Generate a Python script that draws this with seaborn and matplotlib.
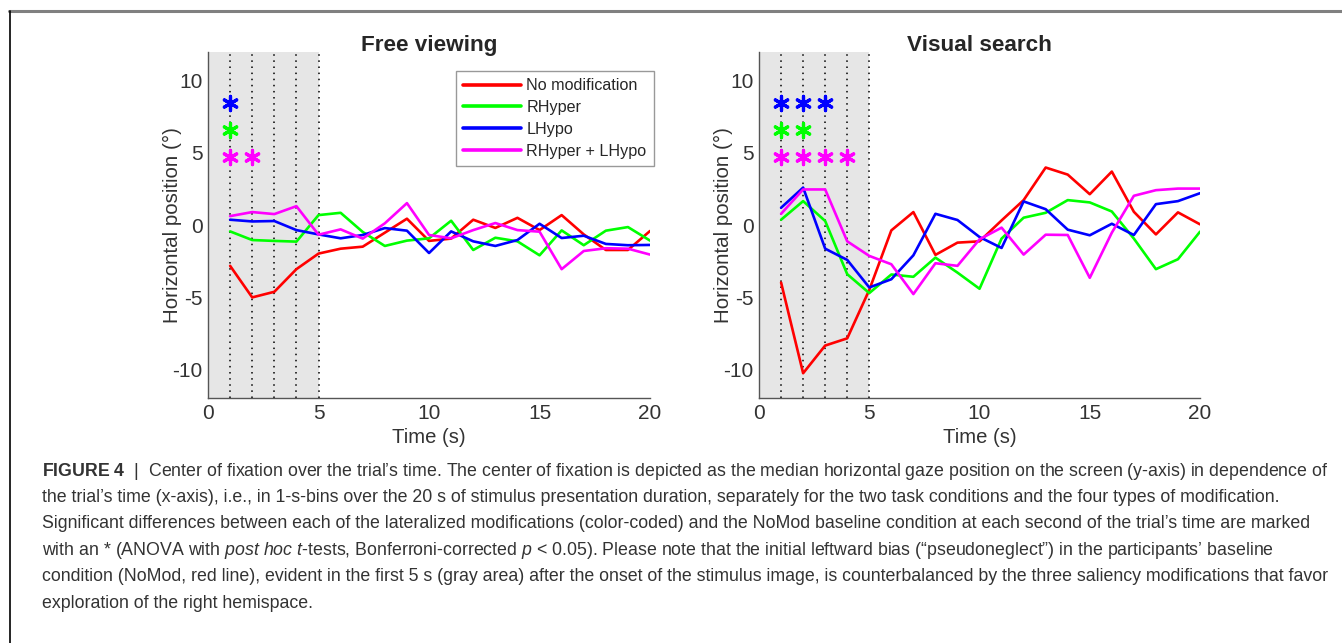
import numpy as np
import pandas as pd
import matplotlib
matplotlib.use("Agg")
import matplotlib.pyplot as plt
import seaborn as sns

# time bins (s)
time = list(range(1, 21))

conditions = ["No modification", "RHyper", "LHypo", "RHyper + LHypo"]
colors = ["#ff0000", "#00ff00", "#0000ff", "#ff00ff"]

# free viewing: median horizontal gaze position (deg)
free_nomod = [-2.83, -5.02, -4.63, -3.06, -1.98, -1.64, -1.50, -0.53, 0.44, -1.10,
              -0.94, 0.37, -0.20, 0.50, -0.35, 0.69, -0.65, -1.73, -1.73, -0.41]
free_rhyper = [-0.44, -1.04, -1.10, -1.15, 0.69, 0.85, -0.48, -1.45, -1.08, -0.92,
               0.30, -1.73, -0.88, -1.13, -2.10, -0.37, -1.40, -0.39, -0.14, -1.08]
free_lhypo = [0.37, 0.25, 0.28, -0.35, -0.65, -0.92, -0.69, -0.21, -0.39, -1.94,
              -0.44, -1.13, -1.45, -1.04, 0.09, -0.90, -0.74, -1.31, -1.40, -1.38]
free_both = [0.62, 0.90, 0.76, 1.31, -0.67, -0.30, -0.94, 0.12, 1.52, -0.69,
             -0.92, -0.35, 0.14, -0.35, -0.46, -3.06, -1.80, -1.61, -1.64, -2.05]

# visual search
search_nomod = [-3.99, -10.28, -8.36, -7.86, -4.50, -0.37, 0.90, -2.07, -1.22, -1.13,
                0.32, 1.73, 3.99, 3.50, 2.14, 3.71, 0.92, -0.65, 0.88, 0.05]
search_rhyper = [0.37, 1.66, 0.28, -3.41, -4.72, -3.43, -3.59, -2.26, -3.30, -4.42,
                 -0.94, 0.51, 0.85, 1.73, 1.57, 0.94, -0.94, -3.06, -2.37, -0.46]
search_lhypo = [1.20, 2.60, -1.64, -2.42, -4.33, -3.76, -2.10, 0.78, 0.35, -0.83,
                -1.59, 1.64, 1.10, -0.32, -0.71, 0.09, -0.69, 1.45, 1.66, 2.21]
search_both = [0.78, 2.47, 2.47, -1.13, -2.14, -2.72, -4.79, -2.65, -2.83, -0.99,
               -0.18, -2.05, -0.67, -0.69, -3.66, -0.53, 2.03, 2.42, 2.53, 2.53]

# significance stars: seconds with p < 0.05 per modification
free_stars = {"LHypo": [1], "RHyper": [1], "RHyper + LHypo": [1, 2]}
search_stars = {"LHypo": [1, 2, 3], "RHyper": [1, 2], "RHyper + LHypo": [1, 2, 3, 4]}
star_y = {"LHypo": 8.46, "RHyper": 6.57, "RHyper + LHypo": 4.72}


def long_df(series):
    rows = []
    for cond, vals in zip(conditions, series):
        for t, v in zip(time, vals):
            rows.append({"Time": t, "Pos": v, "Cond": cond})
    return pd.DataFrame(rows)


sns.set_style("white")
plt.rcParams["font.family"] = ["Liberation Sans", "DejaVu Sans"]
plt.rcParams["axes.unicode_minus"] = False
plt.rcParams["mathtext.fontset"] = "custom"
plt.rcParams["mathtext.rm"] = "Liberation Sans"
plt.rcParams["mathtext.it"] = "Liberation Sans:italic"
plt.rcParams["mathtext.bf"] = "Liberation Sans:bold"

fig = plt.figure(figsize=(13.42, 6.43), dpi=100)
pal = dict(zip(conditions, colors))

panels = [
    ("Free viewing", [free_nomod, free_rhyper, free_lhypo, free_both], free_stars,
     [0.155, 0.381, 0.3294, 0.538], True),
    ("Visual search", [search_nomod, search_rhyper, search_lhypo, search_both], search_stars,
     [0.5656, 0.381, 0.3286, 0.538], False),
]

for title, series, stars, rect, show_leg in panels:
    ax = fig.add_axes(rect)
    ax.axvspan(0, 5, color="#e6e6e6", lw=0, zorder=0)
    for x in range(1, 6):
        ax.axvline(x, color="black", lw=1.1, ls=(0, (1, 3)), zorder=1)
    df = long_df(series)
    sns.lineplot(data=df, x="Time", y="Pos", hue="Cond", palette=pal,
                 hue_order=conditions, lw=1.9, ax=ax, legend=show_leg, zorder=3)
    for cond, xs in stars.items():
        sns.scatterplot(x=xs, y=[star_y[cond]] * len(xs), marker=(6, 2, 0), s=105,
                        color=pal[cond], edgecolor=pal[cond], linewidth=2.3, ax=ax,
                        zorder=4)
    ax.set_xlim(0, 20)
    ax.set_ylim(-12, 12)
    ax.set_xticks([0, 5, 10, 15, 20])
    ax.set_yticks([-10, -5, 0, 5, 10])
    ax.tick_params(direction="in", length=4, width=0.8, color="#555555",
                   labelsize=15, labelcolor="#333333", pad=4)
    for s in ["top", "right"]:
        ax.spines[s].set_visible(False)
    for s in ["left", "bottom"]:
        ax.spines[s].set_color("#555555")
        ax.spines[s].set_linewidth(1.0)
    ax.set_xlabel("Time (s)", fontsize=14.6, color="#333333", labelpad=4)
    ax.set_ylabel("Horizontal position (°)", fontsize=14.8, color="#333333")
    ax.yaxis.set_label_coords(-0.058, 0.5)
    ax.set_title(title, fontsize=16.2, fontweight="bold", pad=1)
    if show_leg:
        leg = ax.legend(loc="upper right", bbox_to_anchor=(1.008, 0.945), fontsize=11.6,
                        handlelength=3.6, frameon=True, fancybox=False,
                        edgecolor="#808080", borderpad=0.45, labelspacing=0.42,
                        handletextpad=0.3, borderaxespad=0)
        leg.get_frame().set_linewidth(1.0)
        for h in leg.get_lines():
            h.set_linewidth(2.6)

# figure frame: gray top rule, black left rule
fig.add_artist(plt.Line2D([9 / 1342, 1], [1 - 11 / 643] * 2, color="#808080", lw=2.2))
fig.add_artist(plt.Line2D([9.5 / 1342] * 2, [0, 1 - 11 / 643], color="black", lw=1.2))

caption = [
    r"$\bf{FIGURE\ 4}$  |  Center of fixation over the trial’s time. The center of fixation is depicted as the median horizontal gaze position on the screen (y-axis) in dependence of",
    "the trial’s time (x-axis), i.e., in 1-s-bins over the 20 s of stimulus presentation duration, separately for the two task conditions and the four types of modification.",
    "Significant differences between each of the lateralized modifications (color-coded) and the NoMod baseline condition at each second of the trial’s time are marked",
    r"with an * (ANOVA with $\it{post\ hoc\ t}$-tests, Bonferroni-corrected $\it{p}$ < 0.05). Please note that the initial leftward bias (“pseudoneglect”) in the participants’ baseline",
    "condition (NoMod, red line), evident in the first 5 s (gray area) after the onset of the stimulus image, is counterbalanced by the three saliency modifications that favor",
    "exploration of the right hemispace.",
]
for i, line in enumerate(caption):
    y = 471 + i * 26.4
    fig.text(42 / 1342, 1 - y / 643, line, fontsize=12.8, color="#333333", va="center",
             ha="left")

fig.savefig("out.png", dpi=100)
